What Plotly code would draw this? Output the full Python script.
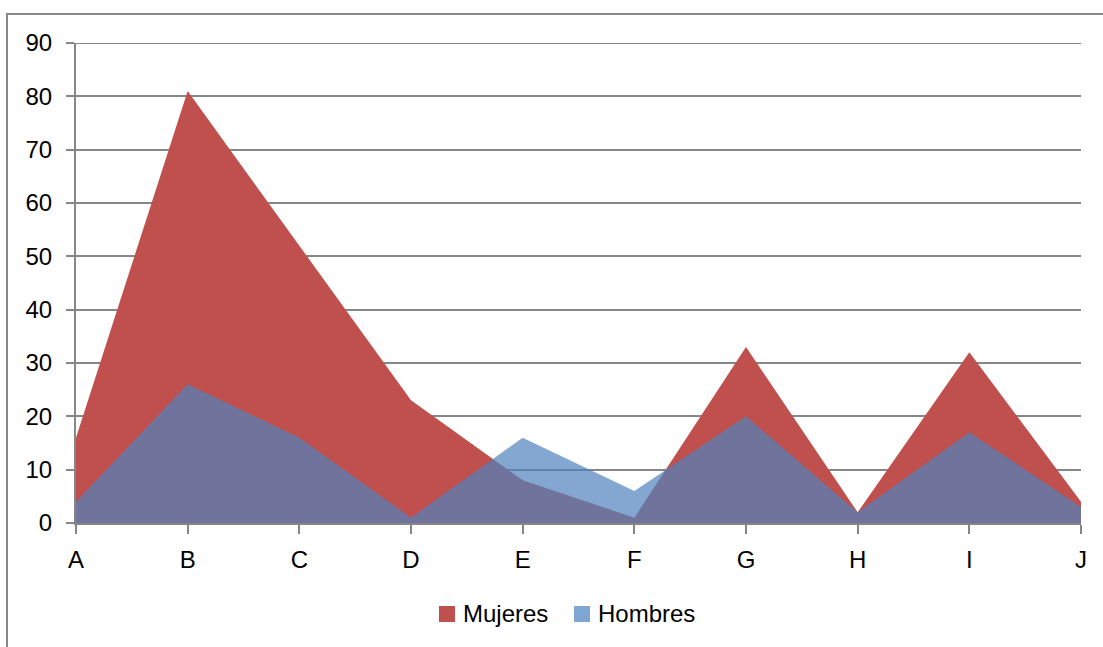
import plotly.graph_objects as go

# Categories and series values
categorias = ["A", "B", "C", "D", "E", "F", "G", "H", "I", "J"]
mujeres = [16, 81, 52, 23, 8, 1, 33, 2, 32, 4]
hombres = [4, 26, 16, 1, 16, 6, 20, 2, 17, 3]
y_ticks = [0, 10, 20, 30, 40, 50, 60, 70, 80, 90]
series_nombres = ["Mujeres", "Hombres"]

ROJO = "#C0504D"
AZUL = "rgba(79,129,189,0.7)"
AZUL_LEYENDA = "#7FA6D3"
GRIS = "#868686"
FUENTE = dict(family="Liberation Sans, Arial, sans-serif", size=24, color="#000000")

fig = go.Figure()

# Filled areas (women first, men drawn semi-transparent on top)
fig.add_trace(go.Scatter(x=categorias, y=mujeres, mode="none", fill="tozeroy",
                         fillcolor=ROJO, name=series_nombres[0], showlegend=False,
                         hoverinfo="skip"))
fig.add_trace(go.Scatter(x=categorias, y=hombres, mode="none", fill="tozeroy",
                         fillcolor=AZUL, name=series_nombres[1], showlegend=False,
                         hoverinfo="skip"))

W, H = 1103, 647
L, R, T, B = 76, 22, 43, 124
pw, ph = W - L - R, H - T - B

def px_x(p):
    return (p - L) / pw

def px_y(p):
    return 1 - (p - T) / ph

shapes = [
    # outer chart frame
    dict(type="rect", xref="paper", yref="paper",
         x0=px_x(7), x1=px_x(W + 20), y0=px_y(14), y1=px_y(H + 20),
         line=dict(color="#898989", width=2), fillcolor="rgba(0,0,0,0)", layer="below"),
    # top gridline at the range maximum
    dict(type="line", xref="paper", yref="y", x0=0, x1=1, y0=y_ticks[-1], y1=y_ticks[-1],
         line=dict(color=GRIS, width=2), layer="below"),
]
annotations = []

# Legend: square swatch followed by the series name
legend_items = [(series_nombres[0], ROJO, 439), (series_nombres[1], AZUL_LEYENDA, 574)]
for nombre, color, x0 in legend_items:
    shapes.append(dict(type="rect", xref="paper", yref="paper",
                       x0=px_x(x0), x1=px_x(x0 + 16), y0=px_y(622), y1=px_y(606),
                       line=dict(width=0), fillcolor=color))
    annotations.append(dict(xref="paper", yref="paper", x=px_x(x0 + 22), y=px_y(613),
                            xanchor="left", yanchor="middle", text=nombre,
                            showarrow=False, font=FUENTE))

fig.update_layout(
    width=W, height=H,
    margin=dict(l=L, r=R, t=T, b=B),
    paper_bgcolor="white", plot_bgcolor="white",
    font=FUENTE,
    showlegend=False,
    xaxis=dict(
        type="category", range=[0, len(categorias) - 1],
        showgrid=False, zeroline=False,
        showline=True, linecolor=GRIS, linewidth=2,
        ticks="outside", ticklen=9, tickwidth=2, tickcolor=GRIS,
        ticklabelstandoff=5, tickfont=FUENTE,
    ),
    yaxis=dict(
        range=[0, 90], tickvals=y_ticks,
        showgrid=True, gridcolor=GRIS, gridwidth=2,
        zeroline=False,
        showline=True, linecolor=GRIS, linewidth=2,
        ticks="outside", ticklen=8, tickwidth=2, tickcolor=GRIS,
        ticklabelstandoff=9, tickfont=FUENTE,
    ),
    shapes=shapes,
    annotations=annotations,
)

fig.write_html("out.html")
